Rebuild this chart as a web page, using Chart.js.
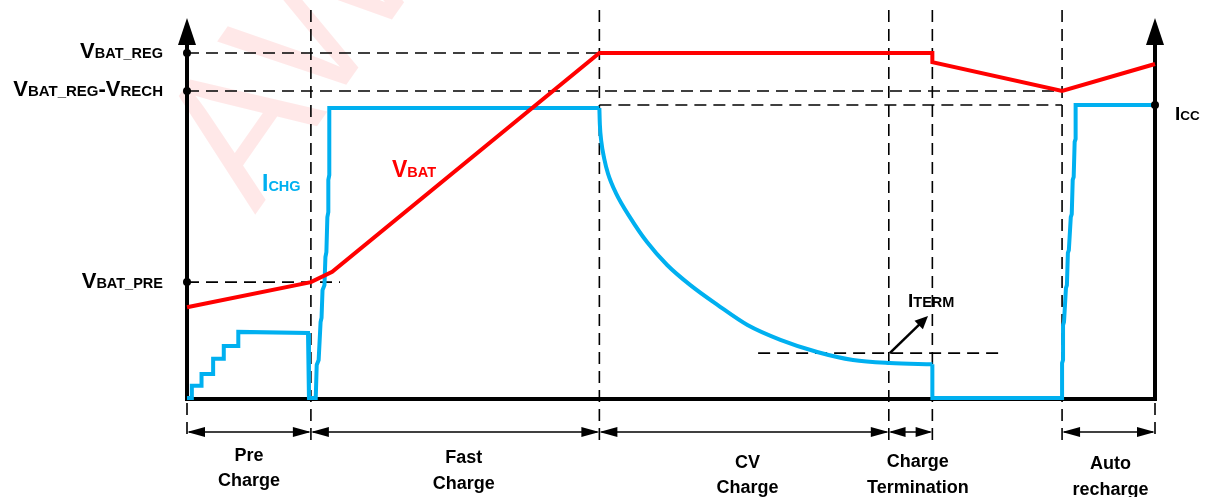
<!DOCTYPE html>
<html>
<head>
<meta charset="utf-8">
<script src="https://cdn.jsdelivr.net/npm/chart.js@4.4.1/dist/chart.umd.min.js"></script>
<style>
  html, body { margin: 0; padding: 0; background: #fff; }
  #wrap { width: 1208px; height: 497px; position: relative; }
</style>
</head>
<body>
<div id="wrap"><canvas id="chgChart"></canvas></div>
<script>
// Time axis 0..100 (arbitrary units), value axis 0..100 (arbitrary units)

// VBAT (red) trace
const vbatX = [0, 12.8, 15.0, 42.6, 77.0, 77.0, 90.4, 100];
const vbatY = [23.9, 30.5, 33.2, 90.8, 90.8, 88.4, 80.8, 87.9];

// ICHG (blue) trace: pre-charge + fast charge
const ichgCcX = [0, 0.5, 0.5, 1.5, 1.5, 2.7, 2.7, 3.8, 3.8, 5.3, 5.3, 12.5, 12.6, 13.3,
  13.4, 13.6, 13.8, 13.9, 14.0, 14.2, 14.3, 14.4, 14.5, 14.6, 14.6, 14.7, 14.7, 42.6];
const ichgCcY = [0, 0, 3.2, 3.2, 6.3, 6.3, 10.3, 10.3, 13.7, 13.7, 17.4, 17.1, 0, 0,
  8.7, 10.0, 20.0, 21.1, 28.4, 29.7, 37.1, 38.4, 47.6, 48.9, 57.4, 58.7, 76.3, 76.3];
// ICHG: CV taper
const ichgCvX = [42.6, 42.65, 42.8, 43.1, 43.5, 44.3, 45.8, 47.5, 49.6, 52.0, 54.8, 57.9, 61.3, 65.1, 68.8, 72.6, 77.0];
const ichgCvY = [76.3, 72.0, 67.5, 63.0, 59.0, 54.0, 47.4, 41.1, 35.0, 29.7, 24.5, 19.2, 15.3, 12.1, 10.0, 9.2, 8.9];
// ICHG: termination + auto recharge
const ichgRcX = [77.0, 77.0, 90.4, 90.4, 90.5, 90.5, 90.6, 90.8, 90.9, 91.0, 91.1, 91.3, 91.4,
  91.5, 91.6, 91.7, 91.8, 91.8, 100];
const ichgRcY = [8.9, 0, 0, 9.2, 10.0, 19.2, 20.0, 28.9, 29.7, 38.2, 38.9, 47.6, 48.4,
  57.4, 58.2, 67.4, 68.2, 77.1, 77.1];

// phase boundaries and names
const phaseBounds = [0, 12.8, 42.6, 72.5, 77.0, 90.4, 100];
const phaseSpans = [[0, 12.8], [12.8, 42.6], [42.6, 72.5], [72.5, 77.0], [90.4, 100]];
const phaseNames = [['Pre', 'Charge'], ['Fast', 'Charge'], ['CV', 'Charge'], ['Charge', 'Termination'], ['Auto', 'recharge']];
const phaseLabelX = [6.4, 28.6, 57.9, 75.5, 95.4];

// reference levels
const vbatReg = 90.8, vRechLevel = 80.8, iccLevel = 77.1, vbatPre = 30.5, itermLevel = 11.8;

const FONT = '"Liberation Sans", Arial, sans-serif';
const RED = '#ff0000';
const BLUE = '#00b0f0';

function toPts(xs, ys) { return xs.map((x, i) => ({ x: x, y: ys[i] })); }

// draw text like V + subscript, parts: [text, size]
function subText(ctx, x, y, parts, align, color) {
  ctx.fillStyle = color || '#000';
  ctx.textBaseline = 'alphabetic';
  ctx.textAlign = 'left';
  let w = 0;
  parts.forEach(p => { ctx.font = 'bold ' + p[1] + 'px ' + FONT; w += ctx.measureText(p[0]).width; });
  let cx = align === 'right' ? x - w : x;
  parts.forEach(p => {
    ctx.font = 'bold ' + p[1] + 'px ' + FONT;
    ctx.fillText(p[0], cx, y);
    cx += ctx.measureText(p[0]).width;
  });
}

function arrowHead(ctx, x, y, ang, len, half) {
  ctx.beginPath();
  ctx.moveTo(x, y);
  ctx.lineTo(x - len * Math.cos(ang) + half * Math.sin(ang), y - len * Math.sin(ang) - half * Math.cos(ang));
  ctx.lineTo(x - len * Math.cos(ang) - half * Math.sin(ang), y - len * Math.sin(ang) + half * Math.cos(ang));
  ctx.closePath();
  ctx.fill();
}

const diagram = {
  id: 'diagram',
  beforeDraw(chart) {
    // faint watermark
    const ctx = chart.ctx;
    ctx.save();
    ctx.translate(255, 215);
    ctx.rotate(-55 * Math.PI / 180);
    ctx.fillStyle = 'rgba(255,0,0,0.09)';
    ctx.font = '190px ' + FONT;
    ctx.fillText('AW', 0, 0);
    ctx.restore();
  },
  beforeDatasetsDraw(chart) {
    const ctx = chart.ctx, xs = chart.scales.x, ys = chart.scales.y;
    const X = v => xs.getPixelForValue(v), Y = v => ys.getPixelForValue(v);
    const y0 = Y(0);
    ctx.save();
    // dashed guides
    ctx.strokeStyle = '#000';
    ctx.lineWidth = 1.6;
    ctx.setLineDash([12, 7]);
    const hline = (lv, a, b) => { ctx.beginPath(); ctx.moveTo(X(a), Y(lv)); ctx.lineTo(X(b), Y(lv)); ctx.stroke(); };
    hline(vbatReg, 0, 42.6);
    hline(vRechLevel, 0, 90.4);
    hline(iccLevel, 42.6, 90.4);
    hline(vbatPre, 0, 15.8);
    hline(itermLevel, 59.0, 84.5);
    phaseBounds.forEach((b, i) => {
      const top = (i === 0 || i === phaseBounds.length - 1) ? y0 + 5 : 10;
      ctx.beginPath(); ctx.moveTo(X(b), top); ctx.lineTo(X(b), y0 + 43); ctx.stroke();
    });
    ctx.setLineDash([]);
    // axes
    ctx.lineWidth = 4;
    ctx.beginPath();
    ctx.moveTo(X(0), Y(93)); ctx.lineTo(X(0), y0 + 1);
    ctx.lineTo(X(100), y0 + 1); ctx.lineTo(X(100), Y(93));
    ctx.stroke();
    ctx.fillStyle = '#000';
    [0, 100].forEach(v => arrowHead(ctx, X(v), Y(100), -Math.PI / 2, 27, 9));
    ctx.restore();
  },
  afterDatasetsDraw(chart) {
    const ctx = chart.ctx, xs = chart.scales.x, ys = chart.scales.y;
    const X = v => xs.getPixelForValue(v), Y = v => ys.getPixelForValue(v);
    const y0 = Y(0);
    ctx.save();
    ctx.fillStyle = '#000';
    // dots on axes
    [vbatReg, vRechLevel, vbatPre].forEach(lv => { ctx.beginPath(); ctx.arc(X(0), Y(lv), 4, 0, Math.PI * 2); ctx.fill(); });
    ctx.beginPath(); ctx.arc(X(100), Y(iccLevel), 4, 0, Math.PI * 2); ctx.fill();

    // level labels
    subText(ctx, 163, Y(vbatReg) + 5, [['V', 22], ['BAT_REG', 14.5]], 'right');
    subText(ctx, 163, Y(vRechLevel) + 5, [['V', 22], ['BAT_REG', 15], ['-V', 22], ['RECH', 15]], 'right');
    subText(ctx, 163, Y(vbatPre) + 6, [['V', 22], ['BAT_PRE', 14.5]], 'right');
    subText(ctx, X(100) + 20, Y(iccLevel) + 15, [['I', 19], ['CC', 13.5]], 'left');
    subText(ctx, 262, 191, [['I', 23], ['CHG', 14.5]], 'left', BLUE);
    subText(ctx, 392, 177, [['V', 23], ['BAT', 14.5]], 'left', RED);
    subText(ctx, 908, 307, [['I', 19], ['TERM', 14.5]], 'left');

    // ITERM pointer
    ctx.strokeStyle = '#000';
    ctx.lineWidth = 2.5;
    const ax = X(72.6), ay = Y(itermLevel), bx = 928, by = 316;
    const ang = Math.atan2(by - ay, bx - ax);
    ctx.beginPath(); ctx.moveTo(ax, ay); ctx.lineTo(bx - 8 * Math.cos(ang), by - 8 * Math.sin(ang)); ctx.stroke();
    arrowHead(ctx, bx, by, ang, 13, 6);

    // phase span arrows
    ctx.lineWidth = 1.5;
    const ya = y0 + 34;
    phaseSpans.forEach(s => {
      const a = X(s[0]), b = X(s[1]);
      const len = Math.min(18, (b - a) / 2.6);
      ctx.beginPath(); ctx.moveTo(a + 2, ya); ctx.lineTo(b - 2, ya); ctx.stroke();
      arrowHead(ctx, a, ya, Math.PI, len, 5);
      arrowHead(ctx, b, ya, 0, len, 5);
    });

    // phase names
    const dy = [[63, 88], [65, 91], [70, 95], [69, 95], [71, 97]];
    ctx.textAlign = 'center';
    ctx.textBaseline = 'alphabetic';
    ctx.font = 'bold 18px ' + FONT;
    phaseNames.forEach((nm, i) => {
      ctx.fillText(nm[0], X(phaseLabelX[i]), y0 + dy[i][0]);
      ctx.fillText(nm[1], X(phaseLabelX[i]), y0 + dy[i][1]);
    });
    ctx.restore();
  }
};

const lineStyle = { borderWidth: 4, pointRadius: 0, tension: 0, clip: false, borderJoinStyle: 'miter' };

new Chart(document.getElementById('chgChart').getContext('2d'), {
  type: 'line',
  data: {
    datasets: [
      Object.assign({ label: 'VBAT', data: toPts(vbatX, vbatY), borderColor: RED }, lineStyle),
      Object.assign({ label: 'ICHG', data: toPts(ichgCcX, ichgCcY), borderColor: BLUE }, lineStyle),
      Object.assign({ label: 'ICHG CV', data: toPts(ichgCvX, ichgCvY), borderColor: BLUE }, lineStyle,
        { cubicInterpolationMode: 'monotone', borderJoinStyle: 'round' }),
      Object.assign({ label: 'ICHG recharge', data: toPts(ichgRcX, ichgRcY), borderColor: BLUE }, lineStyle)
    ]
  },
  options: {
    responsive: true,
    maintainAspectRatio: false,
    animation: false,
    layout: { padding: { left: 187, right: 53, top: 18, bottom: 99 } },
    plugins: { legend: { display: false }, tooltip: { enabled: false } },
    scales: {
      x: { type: 'linear', min: 0, max: 100, display: false },
      y: { type: 'linear', min: 0, max: 100, display: false }
    }
  },
  plugins: [diagram]
});
</script>
</body>
</html>
